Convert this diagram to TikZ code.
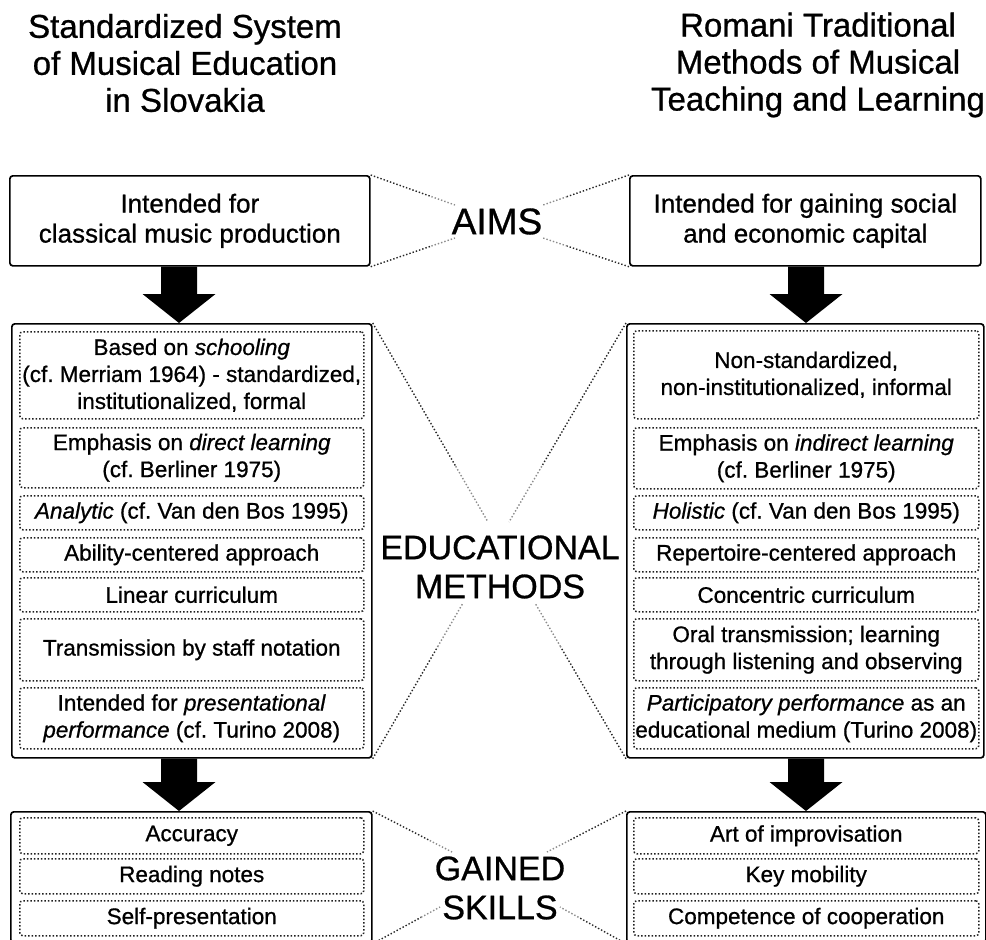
\documentclass[tikz,border=0pt]{standalone}
\usepackage{fontspec}
\setmainfont{Liberation Sans}[UprightFeatures={FakeBold=0.8},ItalicFeatures={FakeBold=0.8}]
\usetikzlibrary{calc}
\newcommand\fatarrow[2]{%
  \fill ($(#1)+(-18,0)$) -- ($(#1 |- #2)+(-18,-29)$) -- ($(#1 |- #2)+(-36.5,-29)$) -- (#1 |- #2)
     -- ($(#1 |- #2)+(36.5,-29)$) -- ($(#1 |- #2)+(18,-29)$) -- ($(#1)+(18,0)$) -- cycle;}
\newcommand\conn[2]{%
  \draw[connA] (#1) -- ($(#1)!0.72!(#2)$);
  \draw[connB] ($(#1)!0.72!(#2)$) -- (#2);}
\begin{document}
\frenchspacing
\begin{tikzpicture}[x=1pt,y=-1pt,
  outer/.style={draw=black, line width=1.7pt, rounded corners=3pt, anchor=north west, inner sep=0pt},
  boxtext/.style={align=center, font=\fontsize{26}{30}\selectfont},
  inner/.style={draw=black!88, dotted, line width=1.5pt, rounded corners=3pt, anchor=north west,
     inner sep=0pt, minimum width=344pt, align=center, text=black, font=\fontsize{22.5}{27}\selectfont},
  title/.style={align=center, font=\fontsize{33}{37}\selectfont},
  big/.style={align=center, font=\fontsize{34}{39}\selectfont},
  connA/.style={draw=black!85, dotted, line width=1.4pt},
  connB/.style={draw=black!45, dotted, line width=1.4pt}]
\clip (0,0) rectangle (986,940);
\fill[white] (0,0) rectangle (986,940);

% titles
\node[title] (tL) at (185,63) {Standardized System\\of Musical Education\\in Slovakia};
\node[title] (tR) at (818,65) {Romani Traditional\\Methods of Musical\\Teaching and Learning};

% aims
\node[outer, boxtext, minimum width=360pt, minimum height=90pt] (aimsL) at (9,175) {Intended for\\classical music production};
\node[outer, boxtext, minimum width=351pt, minimum height=90pt] (aimsR) at (629,175) {Intended for gaining social\\and economic capital};
\node[font=\fontsize{37}{40}\selectfont] (aims) at (497,221.5) {AIMS};

% methods outer boxes
\node[outer, minimum width=360pt, minimum height=434pt] (methL) at (11,323) {};
\node[outer, minimum width=357pt, minimum height=434pt] (methR) at (626,323) {};

% left methods
\node[inner, minimum height=87pt] (l1) at (19,331) {Based on \textit{schooling}\\(cf. Merriam 1964) - standardized,\\institutionalized, formal};
\node[inner, minimum height=60pt] (l2) at (19,427) {Emphasis on \textit{direct learning}\\(cf. Berliner 1975)};
\node[inner, minimum height=34pt] (l3) at (19,495) {\textit{Analytic} (cf. Van den Bos 1995)};
\node[inner, minimum height=34pt] (l4) at (19,537) {Ability-centered approach};
\node[inner, minimum height=34pt] (l5) at (19,577) {Linear curriculum};
\node[inner, minimum height=62pt] (l6) at (19,618) {Transmission by staff notation};
\node[inner, minimum height=61pt] (l7) at (19,687) {Intended for \textit{presentational}\\\textit{performance} (cf. Turino 2008)};

% right methods
\node[inner, minimum width=345pt, minimum height=88pt] (r1) at (633,330) {Non-standardized,\\non-institutionalized, informal};
\node[inner, minimum width=345pt, minimum height=61pt] (r2) at (633,427) {Emphasis on \textit{indirect learning}\\(cf. Berliner 1975)};
\node[inner, minimum width=345pt, minimum height=34pt] (r3) at (633,495) {\textit{Holistic} (cf. Van den Bos 1995)};
\node[inner, minimum width=345pt, minimum height=34pt] (r4) at (633,537) {Repertoire-centered approach};
\node[inner, minimum width=345pt, minimum height=34pt] (r5) at (633,577) {Concentric curriculum};
\node[inner, minimum width=345pt, minimum height=62pt] (r6) at (633,618) {Oral transmission; learning\\through listening and observing};
\node[inner, minimum width=345pt, minimum height=61pt] (r7) at (633,687) {\textit{Participatory performance} as an\\educational medium (Turino 2008)};

\node[big] (edu) at (500,567) {EDUCATIONAL\\METHODS};

% skills
\node[outer, minimum width=361pt, minimum height=131pt] (skL) at (10,811) {};
\node[outer, minimum width=359pt, minimum height=131pt] (skR) at (626,811) {};
\node[inner, minimum height=36pt] (s1) at (19,817) {Accuracy};
\node[inner, minimum height=35pt] (s2) at (19,858) {Reading notes};
\node[inner, minimum height=35pt] (s3) at (19,900) {Self-presentation};
\node[inner, minimum width=345pt, minimum height=36pt] (t1) at (633,817) {Art of improvisation};
\node[inner, minimum width=345pt, minimum height=35pt] (t2) at (633,858) {Key mobility};
\node[inner, minimum width=345pt, minimum height=35pt] (t3) at (633,900) {Competence of cooperation};
\node[big] (gain) at (500,888) {GAINED\\SKILLS};

% big arrows
\coordinate (aL1) at ($(aimsL.south west)+(170,0)$);
\coordinate (aR1) at ($(aimsR.south west)+(177,0)$);
\coordinate (aL2) at ($(methL.south west)+(168,0)$);
\coordinate (aR2) at ($(methR.south west)+(180,0)$);
\fatarrow{aL1}{methL.north}
\fatarrow{aR1}{methR.north}
\fatarrow{aL2}{skL.north}
\fatarrow{aR2}{skR.north}

% dotted connectors
\coordinate (cA1) at (455,205);
\coordinate (cA2) at (455,238);
\coordinate (cA3) at (543,205);
\coordinate (cA4) at (543,238);
\conn{aimsL.north east}{cA1}
\conn{aimsL.south east}{cA2}
\conn{aimsR.north west}{cA3}
\conn{aimsR.south west}{cA4}

\coordinate (cM1) at (488,522);
\coordinate (cM2) at (463,603);
\coordinate (cM3) at (509,522);
\coordinate (cM4) at (535,603);
\conn{methL.north east}{cM1}
\conn{methL.south east}{cM2}
\conn{methR.north west}{cM3}
\conn{methR.south west}{cM4}

\coordinate (cS1) at (452,852);
\coordinate (cS2) at (440,907);
\coordinate (cS3) at (547,852);
\coordinate (cS4) at (560,907);
\conn{skL.north east}{cS1}
\conn{skL.south east}{cS2}
\conn{skR.north west}{cS3}
\conn{skR.south west}{cS4}
\end{tikzpicture}
\end{document}
